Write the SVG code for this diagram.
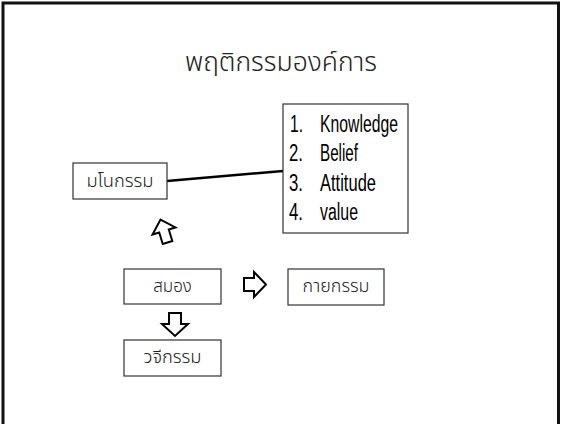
<svg xmlns="http://www.w3.org/2000/svg" width="563" height="424" viewBox="0 0 563 424">
<style>
.box{fill:#fff;stroke:#333;stroke-width:1.2}
.th{font-family:"Noto Sans Thai","Noto Sans","DejaVu Sans",sans-serif;font-weight:300;fill:#222}
.en{font-family:"Liberation Sans",Arial,sans-serif;font-size:23px;fill:#000}
.arr{fill:#fff;stroke:#000;stroke-width:2;stroke-linejoin:miter}
</style>
<rect width="563" height="424" fill="#fff"/>
<path d="M3,424 V3 H558.5 V424" fill="none" stroke="#111" stroke-width="3"/>
<text x="281" y="71" text-anchor="middle" class="th" font-size="26" textLength="192" lengthAdjust="spacingAndGlyphs">พฤติกรรมองค์การ</text>
<g id="connectors">
<line x1="167" y1="181" x2="283" y2="171" stroke="#000" stroke-width="2.5"/>
<polygon class="arr" transform="translate(164,231) rotate(-17)" points="0,-12 12,0 5,0 5,12 -5,12 -5,0 -12,0"/>
<polygon class="arr" points="244,278 254,278 254,272 266,284.5 254,297 254,291 244,291"/>
<polygon class="arr" points="169,313 181,313 181,324 188,324 175,336 162,324 169,324"/>
</g>
<g id="list">
<rect class="box" x="283" y="104" width="125" height="129"/>
<text class="en" x="290" y="132" textLength="13" lengthAdjust="spacingAndGlyphs">1.</text><text class="en" x="320" y="132" textLength="78" lengthAdjust="spacingAndGlyphs">Knowledge</text>
<text class="en" x="289" y="161" textLength="14" lengthAdjust="spacingAndGlyphs">2.</text><text class="en" x="320" y="161" textLength="38" lengthAdjust="spacingAndGlyphs">Belief</text>
<text class="en" x="289" y="191" textLength="14" lengthAdjust="spacingAndGlyphs">3.</text><text class="en" x="320" y="191" textLength="56" lengthAdjust="spacingAndGlyphs">Attitude</text>
<text class="en" x="289" y="220" textLength="14" lengthAdjust="spacingAndGlyphs">4.</text><text class="en" x="320" y="220" textLength="38" lengthAdjust="spacingAndGlyphs">value</text>
</g>
<g id="mano">
<rect class="box" x="73" y="163" width="94" height="36"/>
<text x="120" y="187" text-anchor="middle" class="th" font-size="17" textLength="67" lengthAdjust="spacingAndGlyphs">มโนกรรม</text>
</g>
<g id="samong">
<rect class="box" x="124" y="269" width="97" height="35"/>
<text x="172.5" y="292" text-anchor="middle" class="th" font-size="17">สมอง</text>
</g>
<g id="kaya">
<rect class="box" x="288" y="269" width="96" height="36"/>
<text x="336" y="292" text-anchor="middle" class="th" font-size="17" textLength="67" lengthAdjust="spacingAndGlyphs">กายกรรม</text>
</g>
<g id="waji">
<rect class="box" x="124" y="340" width="97" height="36"/>
<text x="172.5" y="363" text-anchor="middle" class="th" font-size="17" textLength="58" lengthAdjust="spacingAndGlyphs">วจีกรรม</text>
</g>
</svg>
